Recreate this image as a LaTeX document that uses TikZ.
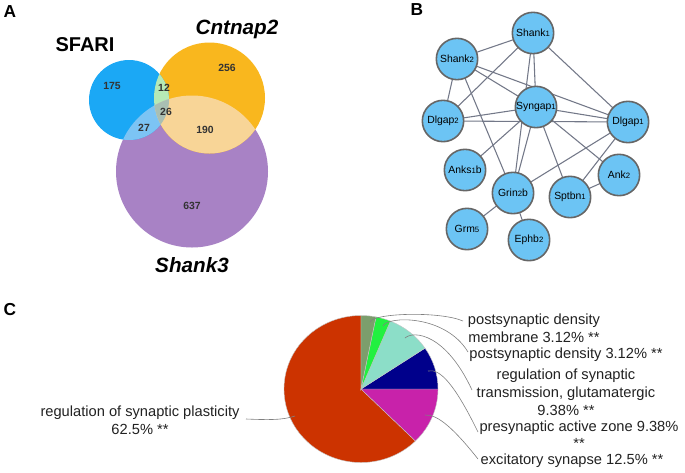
\documentclass[tikz,border=0pt]{standalone}
\usepackage{fontspec}
\setmainfont{Liberation Sans}
\definecolor{vblue}{HTML}{1BA8F5}
\definecolor{vorange}{HTML}{F9B71E}
\definecolor{vpurple}{HTML}{A882C5}
\definecolor{ovBO}{HTML}{B6E9B6}
\definecolor{ovBP}{HTML}{7CC4F4}
\definecolor{ovOP}{HTML}{F8D597}
\definecolor{ovAll}{HTML}{A9BFB3}
\definecolor{netfill}{HTML}{6CC4F4}
\definecolor{netdraw}{HTML}{666666}
\definecolor{netedge}{HTML}{737888}
\definecolor{pGrey}{HTML}{7C9E6C}
\definecolor{pGreen}{HTML}{22F040}
\definecolor{pAqua}{HTML}{8CDEC8}
\definecolor{pNavy}{HTML}{00008B}
\definecolor{pMag}{HTML}{C822AA}
\definecolor{pRed}{HTML}{CC3300}
\definecolor{txt}{HTML}{222222}
\newcommand\sdig[1]{{\fontsize{5.8}{6}\selectfont #1}}
\pgfdeclarelayer{bglayer}
\pgfdeclarelayer{edgelayer}
\pgfsetlayers{bglayer,edgelayer,main}
\begin{document}
\begin{tikzpicture}[x=0.75pt,y=-0.75pt,
  panel/.style={font=\fontsize{13}{15}\selectfont\bfseries},
  vnum/.style={font=\fontsize{7.8}{9}\selectfont\bfseries, text=black!80},
  vtitle/.style={font=\fontsize{15}{18}\selectfont\bfseries},
  vital/.style={font=\fontsize{15.5}{18}\selectfont\bfseries\itshape},
  gene/.style={circle, draw=netdraw, line width=1.2pt, fill=netfill, minimum size=31pt, inner sep=0pt, font=\fontsize{7.8}{9}\selectfont, text=black},
  edge/.style={draw=netedge, line width=0.8pt},
  plab/.style={font=\fontsize{11}{13.5}\selectfont, align=center, text=txt, inner sep=0pt},
  leader/.style={draw=gray, line width=0.45pt},
  slice/.style={draw=gray!45, line width=0.3pt}
]
\useasboundingbox (0,0) rectangle (685,472);
\begin{pgfonlayer}{bglayer}
\fill[white] (0,0) rectangle (685,472);
\end{pgfonlayer}

% ---------------- Panel A: Venn ----------------
\node[panel] (pA) at (10,12) {A};
\fill[vpurple] (192,171.5) circle (76);
\fill[vorange] (209.5,98) circle (55.5);
\fill[vblue] (129,100) circle (40);
\begin{scope}
  \clip (129,100) circle (40);
  \fill[ovBO] (209.5,98) circle (55.5);
  \fill[ovBP] (192,171.5) circle (76);
\end{scope}
\begin{scope}
  \clip (209.5,98) circle (55.5);
  \fill[ovOP] (192,171.5) circle (76);
\end{scope}
\begin{scope}
  \clip (129,100) circle (40);
  \clip (209.5,98) circle (55.5);
  \fill[ovAll] (192,171.5) circle (76);
\end{scope}
\node[vtitle] (sfari) at (85,45) {SFARI};
\node[vital] (cntnap) at (237,29) {Cntnap2};
\node[vital] (shank3) at (192,265) {Shank3};
\node[vnum] (n175) at (112,86) {175};
\node[vnum] (n12) at (164,88) {12};
\node[vnum] (n256) at (227,68) {256};
\node[vnum] (n26) at (166,112) {26};
\node[vnum] (n27) at (144,128) {27};
\node[vnum] (n190) at (205,130) {190};
\node[vnum] (n637) at (192,206) {637};

% ---------------- Panel B: network ----------------
\node[panel] (pB) at (417,10) {B};
\node[gene] (shank1) at (533,33) {Shank\sdig{1}};
\node[gene] (shank2) at (457,59) {Shank\sdig{2}};
\node[gene] (syngap1) at (536,107) {Syngap\sdig{1}};
\node[gene] (dlgap2) at (443,121) {Dlgap\sdig{2}};
\node[gene] (dlgap1) at (628,122) {Dlgap\sdig{1}};
\node[gene] (anks1b) at (465,170) {Anks\sdig{1}b};
\node[gene] (grin2b) at (513,193) {Grin\sdig{2}b};
\node[gene] (sptbn1) at (570,197) {Sptbn\sdig{1}};
\node[gene] (ank2) at (619,175) {Ank\sdig{2}};
\node[gene] (grm5) at (467,229) {Grm\sdig{5}};
\node[gene] (ephb2) at (529,240) {Ephb\sdig{2}};
\begin{pgfonlayer}{edgelayer}
\foreach \a/\b in {shank1/shank2, shank1/dlgap2, shank1/syngap1, shank1/grin2b, shank1/dlgap1,
  shank2/dlgap2, shank2/syngap1, shank2/dlgap1, shank2/grin2b,
  dlgap2/syngap1, dlgap2/dlgap1,
  syngap1/dlgap1, syngap1/anks1b, syngap1/grin2b, syngap1/sptbn1, syngap1/ank2,
  dlgap1/grin2b, dlgap1/sptbn1, ank2/sptbn1, grin2b/grm5, grin2b/ephb2}
  \draw[edge] (\a.center) -- (\b.center);
\end{pgfonlayer}

% ---------------- Panel C: pie ----------------
\node[panel] (pC) at (10,310) {C};
\begin{scope}[shift={(361,389)}]
\begin{scope}[x=0.75pt,y=0.75pt]
  \filldraw[slice, fill=pRed] (0,0) -- (-45:77 and 73.5) arc[start angle=-45, end angle=-270, x radius=77, y radius=73.5] -- cycle;
  \filldraw[slice, fill=pMag] (0,0) -- (0:77 and 73.5) arc[start angle=0, end angle=-45, x radius=77, y radius=73.5] -- cycle;
  \filldraw[slice, fill=pNavy] (0,0) -- (33.768:77 and 73.5) arc[start angle=33.768, end angle=0, x radius=77, y radius=73.5] -- cycle;
  \filldraw[slice, fill=pAqua] (0,0) -- (67.536:77 and 73.5) arc[start angle=67.536, end angle=33.768, x radius=77, y radius=73.5] -- cycle;
  \filldraw[slice, fill=pGreen] (0,0) -- (78.768:77 and 73.5) arc[start angle=78.768, end angle=67.536, x radius=77, y radius=73.5] -- cycle;
  \filldraw[slice, fill=pGrey] (0,0) -- (90:77 and 73.5) arc[start angle=90, end angle=78.768, x radius=77, y radius=73.5] -- cycle;
\end{scope}
\end{scope}

\node[plab] (labL) at (140,420) {regulation of synaptic plasticity\\62.5\% **};
\node[plab] (lab1) at (534,328.5) {postsynaptic density\\membrane 3.12\% **};
\node[plab] (lab2) at (566,355) {postsynaptic density 3.12\% **};
\node[plab] (lab3) at (566,392) {regulation of synaptic\\transmission, glutamatergic\\9.38\% **};
\node[plab, font=\fontsize{11}{12.5}\selectfont] (lab4) at (579,435) {presynaptic active zone 9.38\%\\**};
\node[plab] (lab5) at (572,461) {excitatory synapse 12.5\% **};

\coordinate (sR) at (295,416); \coordinate (eR) at (246,419);
\coordinate (s1) at (370,322); \coordinate (e1) at (463,321);
\coordinate (s2) at (383,326); \coordinate (e2) at (468,352);
\coordinate (s3) at (405,338); \coordinate (e3) at (472,390);
\coordinate (s4) at (428,371); \coordinate (e4) at (478,432);
\coordinate (s5) at (425,415); \coordinate (e5) at (478,459);
\draw[leader] (sR) .. controls (283,420) and (270,420) .. (eR);
\draw[leader] (s1) .. controls (373,313) and (440,311) .. (e1);
\draw[leader] (s2) .. controls (387,316) and (445,314) .. (e2);
\draw[leader] (s3) .. controls (414,330) and (446,334) .. (e3);
\draw[leader] (s4) .. controls (440,368) and (455,385) .. (e4);
\draw[leader] (s5) .. controls (438,414) and (455,430) .. (e5);
\end{tikzpicture}
\end{document}
